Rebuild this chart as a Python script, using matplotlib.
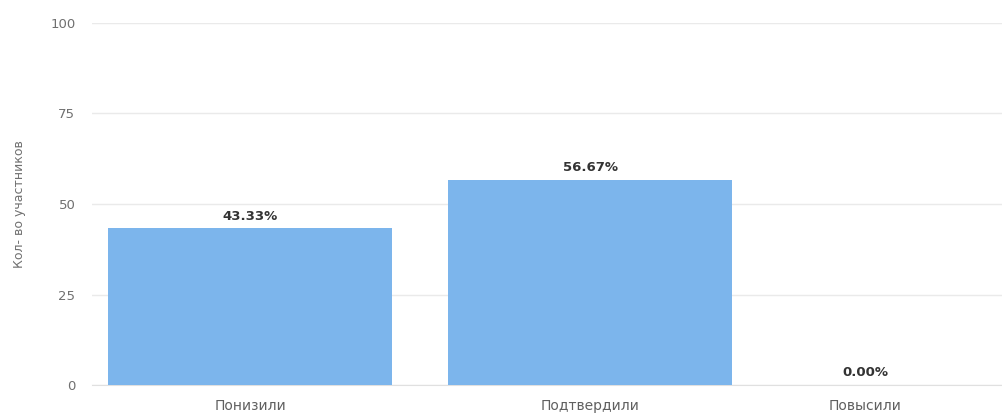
import matplotlib
matplotlib.use("Agg")
import matplotlib.pyplot as plt
from matplotlib.transforms import ScaledTranslation

categories = ["Понизили", "Подтвердили", "Повысили"]
values = [43.33, 56.67, 0.00]
yticks = [0, 25, 50, 75, 100]

plt.rcParams['font.family'] = ['DejaVu Sans']
fig = plt.figure(figsize=(10.02, 4.13), dpi=100)
ax = fig.add_axes([92/1002, 28/413, 1 - 92/1002, (385-23)/413])

x = list(range(len(categories)))
ax.bar(x, values, width=0.835, color="#7cb5ec", zorder=3)

# labels of the last (clipped-edge) category are shifted left as in the reference
label_shift_px = [0, 0, -65]
for xi, v, sh in zip(x, values, label_shift_px):
    ax.annotate(f"{v:.2f}%", xy=(xi, v), xytext=(sh * 0.72, 4),
                textcoords="offset points", ha="center", va="bottom",
                fontsize=9.5, fontweight="bold", color="#333333", zorder=4)

ax.set_xlim(-0.465, 2.212)
ax.set_ylim(0, 100)
ax.set_yticks(yticks)
ax.set_xticks(x)
ax.set_xticklabels(categories)
ax.grid(axis="y", color="#eaeaea", linewidth=1, zorder=0)
for s in ["top", "right", "left"]:
    ax.spines[s].set_visible(False)
ax.spines["bottom"].set_color("#e0e0e0")
ax.tick_params(axis="y", length=0, pad=12, labelsize=9.5, labelcolor="#707070")
ax.tick_params(axis="x", length=0, pad=10, labelsize=10, labelcolor="#606060")
ax.set_ylabel("Кол- во участников", fontsize=9, color="#707070", labelpad=17)

for lab, sh in zip(ax.get_xticklabels(), label_shift_px):
    lab.set_transform(lab.get_transform() + ScaledTranslation(sh / 100, 0, fig.dpi_scale_trans))

fig.savefig("out.png", dpi=100)
